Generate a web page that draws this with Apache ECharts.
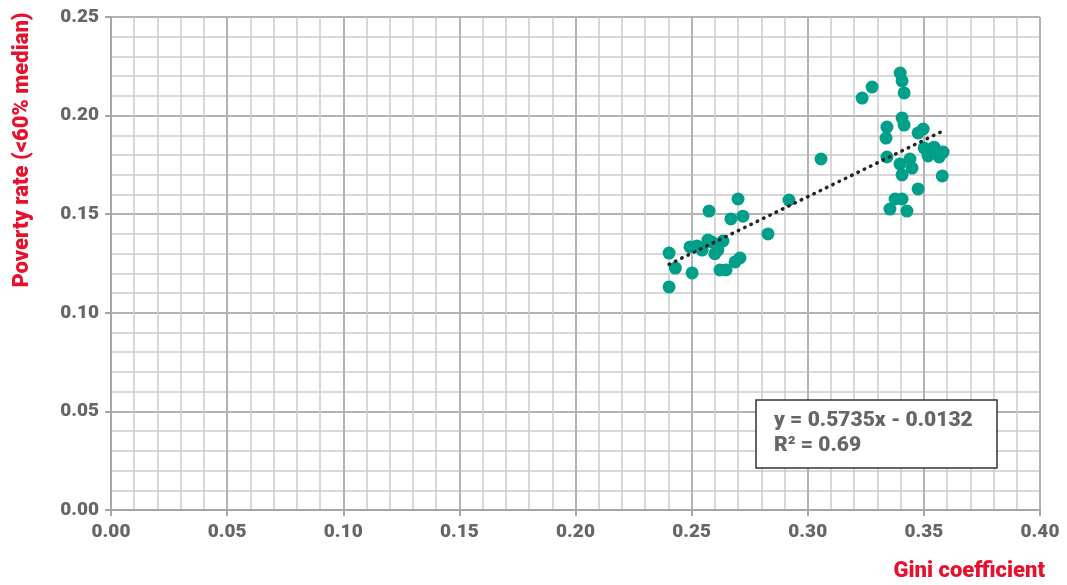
<!DOCTYPE html>
<html>
<head>
<meta charset="utf-8">
<script src="https://cdn.jsdelivr.net/npm/echarts@6/dist/echarts.min.js"></script>
<style>html,body{margin:0;padding:0;background:#fff}#c{width:1067px;height:585px}</style>
</head>
<body>
<div id="c"></div>
<script>
const gini = [0.2403,0.2403,0.243,0.2493,0.2502,0.2523,0.2545,0.2575,0.257,0.2587,0.260,0.2613,0.2622,0.2648,0.2635,0.2669,0.270,0.2721,0.2687,0.2708,0.2829,0.2919,0.3057,
  0.3234,0.3277,0.3398,0.3406,0.3415,0.3406,0.3415,0.3341,0.3337,0.3341,0.3397,0.3406,0.3376,0.3406,0.3354,0.3427,0.3440,0.3449,0.3475,0.3475,0.3497,0.3501,0.3518,0.3544,0.3566,0.3583,0.3579];
const poverty = [0.1303,0.1131,0.1227,0.1334,0.1202,0.1339,0.1318,0.1516,0.1369,0.1359,0.1300,0.1318,0.1217,0.1217,0.1364,0.1476,0.1577,0.1490,0.1258,0.1278,0.1400,0.1572,0.1780,
  0.2089,0.2145,0.2216,0.2176,0.2115,0.1988,0.1952,0.1942,0.1886,0.1790,0.1755,0.1699,0.1577,0.1577,0.1526,0.1516,0.1780,0.1734,0.1628,0.1912,0.1932,0.1836,0.1795,0.1840,0.1790,0.1815,0.1694];
const slope = 0.5735, intercept = -0.0132;
const equationText = 'y = 0.5735x - 0.0132';
const r2Text = 'R² = 0.69';

const pts = gini.map((g,i)=>[g,poverty[i]]);
const xs = gini.slice().sort((a,b)=>a-b);
const x0 = xs[0], x1 = xs[xs.length-1];
const trend = [[x0, slope*x0+intercept],[x1, slope*x1+intercept]];

const chart = echarts.init(document.getElementById('c'));
const lab = {color:'#666', fontFamily:'Roboto', fontWeight:900, fontSize:19, formatter:v=>v.toFixed(2)};
const axisCommon = {
  axisLine:{show:true,onZero:false,lineStyle:{color:'#a6a6a6',width:2}},
  axisTick:{show:true,length:6,lineStyle:{color:'#a6a6a6',width:2}},
  splitLine:{show:true,lineStyle:{color:'#b3b3b3',width:2}},
  minorTick:{show:false,splitNumber:5},
  minorSplitLine:{show:true,lineStyle:{color:'#cbcbcb',width:1.5}}
};
chart.setOption({
  animation:false,
  grid:{left:111,right:27,top:17,bottom:75},
  xAxis:Object.assign({type:'value',min:0,max:0.4,interval:0.05,axisLabel:Object.assign({margin:13},lab)},axisCommon),
  yAxis:Object.assign({type:'value',min:0,max:0.25,interval:0.05,axisLabel:Object.assign({margin:12},lab)},axisCommon),
  series:[
    {type:'scatter',data:pts,symbolSize:13,itemStyle:{color:'#009f89',opacity:1},z:3},
    {type:'line',data:trend,showSymbol:false,symbol:'none',z:4,
      lineStyle:{color:'#222',width:3.5,type:[0.5,6.5],cap:'round'}}
  ],
  graphic:[
    {type:'text',right:22,top:560,z:100,style:{text:'Gini coefficient',fill:'#e8112d',fontFamily:'Roboto',fontWeight:900,fontSize:22}},
    {type:'text',x:22,y:150,rotation:Math.PI/2,z:100,style:{text:'Poverty rate (<60% median)',fill:'#e8112d',fontFamily:'Roboto',fontWeight:900,fontSize:22,align:'center',verticalAlign:'middle'}},
    {type:'rect',z:100,shape:{x:756,y:400,width:241,height:68},style:{fill:'#ffffff',stroke:'#333',lineWidth:1.5}},
    {type:'text',z:101,x:774,y:410,style:{text:equationText,fill:'#666',fontFamily:'Roboto',fontWeight:900,fontSize:21}},
    {type:'text',z:101,x:774,y:435,style:{text:r2Text,fill:'#666',fontFamily:'Roboto',fontWeight:900,fontSize:21}}
  ]
});
</script>
</body>
</html>
